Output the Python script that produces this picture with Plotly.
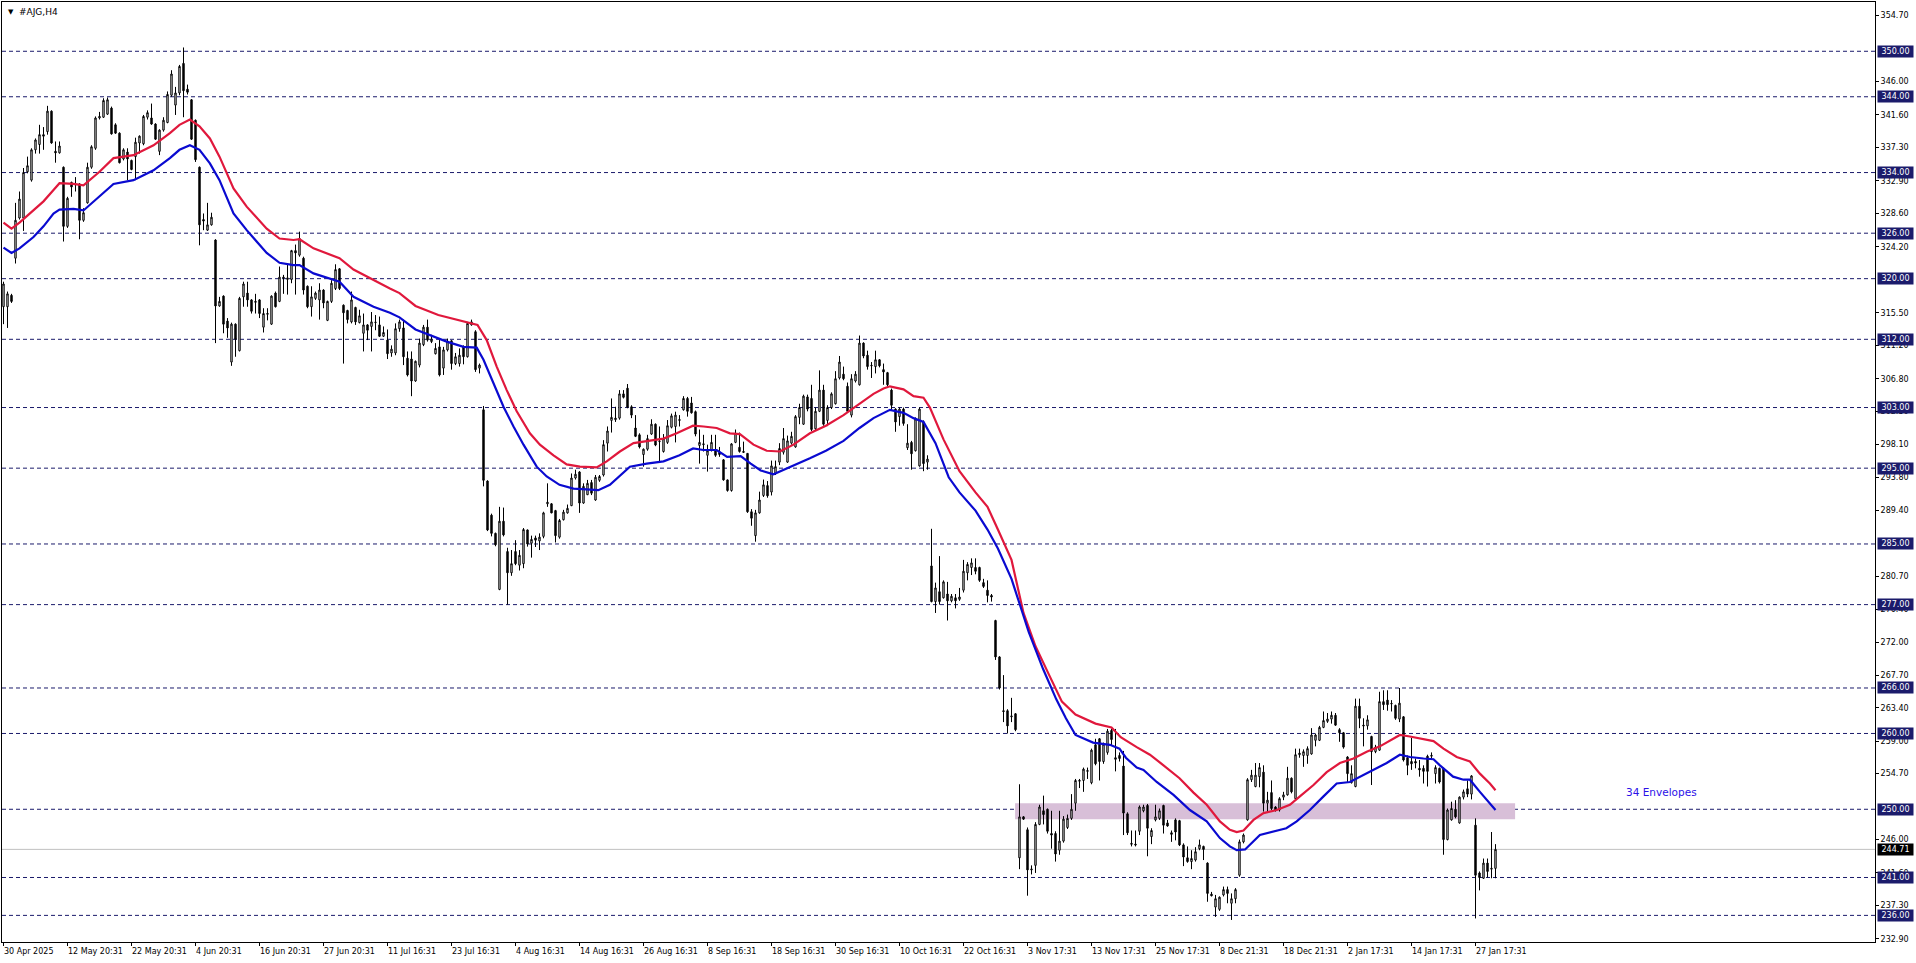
import plotly.graph_objects as go

# ---------------- DATA ----------------
opens = [
    316.3, 316.3, 317.8, 322.7, 328.0, 328.0, 334.1, 333.0, 337.0, 337.7,
    339.0, 339.4, 342.1, 336.8, 336.6, 334.7, 326.9, 332.7, 332.5, 332.5,
    327.7, 330.0, 334.7, 337.2, 341.2, 341.3, 341.7, 342.5, 340.3, 339.2,
    335.8, 336.7, 335.6, 336.1, 337.9, 337.8, 341.3, 341.2, 340.4, 336.8,
    339.6, 340.6, 344.2, 342.9, 344.5, 348.4, 345.0, 343.6, 340.9, 334.7,
    327.8, 326.4, 327.1, 325.1, 316.4, 317.7, 314.4, 309.0, 314.0, 310.5,
    317.6, 318.1, 317.2, 317.0, 317.2, 313.6, 315.3, 314.0, 318.1, 317.0,
    320.2, 319.9, 319.9, 323.7, 323.1, 322.7, 319.0, 316.3, 317.4, 317.2,
    318.5, 314.5, 317.0, 318.7, 321.3, 316.5, 315.8, 314.3, 316.2, 314.2,
    312.8, 313.9, 313.7, 314.2, 313.9, 312.4, 311.9, 310.2, 310.2, 313.4,
    313.5, 309.5, 309.4, 306.5, 308.6, 311.3, 313.6, 311.7, 310.1, 311.0,
    308.2, 310.6, 311.8, 308.8, 308.8, 311.0, 309.7, 313.9, 313.0, 308.2,
    302.7, 293.3, 288.8, 286.4, 279.0, 288.0, 284.0, 281.2, 284.0, 282.2,
    282.4, 286.85, 285.1, 285.8, 285.4, 286.0, 290.3, 290.3, 289.4, 285.9,
    288.2, 289.1, 290.05, 293.7, 294.5, 290.4, 291.5, 293.1, 290.8, 293.4,
    294.1, 298.3, 301.3, 301.4, 301.6, 304.8, 305.55, 303.1, 300.3, 299.4,
    296.8, 297.5, 299.5, 300.8, 298.5, 297.2, 298.4, 300.4, 300.5, 301.3,
    302.7, 304.2, 303.6, 302.45, 298.0, 298.1, 296.7, 297.4, 297.4, 297.1,
    296.1, 293.45, 292.05, 298.4, 297.75, 297.2, 296.95, 289.25, 286.1, 289.1,
    291.4, 292.7, 291.85, 294.3, 295.8, 297.1, 295.8, 298.3, 297.8, 301.7,
    300.8, 304.4, 304.2, 300.2, 302.5, 305.3, 301.3, 303.0, 303.5, 306.9,
    307.4, 305.8, 302.0, 306.5, 306.0, 311.5, 309.9, 308.5, 308.4, 309.3,
    308.0, 307.6, 305.3, 302.8, 301.8, 302.8, 297.7, 298.4, 297.3, 295.3,
    301.1, 295.8, 282.1, 277.4, 278.7, 277.9, 278.4, 277.5, 277.9, 277.7,
    278.9, 281.2, 281.9, 281.9, 281.9, 279.9, 278.9, 278.2, 274.9, 270.1,
    263.0, 263.0, 262.2, 262.6, 243.6, 249.0, 247.3, 242.0, 242.6, 248.0,
    249.8, 250.0, 246.8, 246.8, 244.6, 245.8, 247.6, 248.8, 250.8, 253.7,
    253.8, 255.0, 253.5, 258.5, 259.3, 256.3, 257.5, 260.4, 256.8, 257.1,
    255.7, 249.4, 245.5, 245.4, 247.1, 249.8, 250.5, 246.4, 248.6, 248.8,
    250.5, 248.2, 246.9, 248.6, 248.5, 245.3, 243.6, 243.1, 243.3, 244.8,
    245.1, 242.9, 238.8, 237.1, 236.8, 238.7, 239.4, 237.6, 238.2, 241.3,
    245.7, 248.6, 253.9, 253.0, 254.3, 254.9, 250.8, 252.2, 250.3, 249.9,
    251.6, 251.9, 254.1, 251.4, 257.2, 257.1, 257.1, 257.3, 259.1, 259.1,
    260.8, 261.6, 261.9, 262.4, 260.5, 260.1, 256.9, 253.5, 253.0, 263.6,
    261.1, 261.0, 259.6, 257.6, 257.8, 264.2, 264.4, 263.9, 263.7, 261.9,
    262.2, 256.8, 256.3, 256.3, 255.4, 255.4, 257.0, 257.0, 254.7, 255.4,
    255.4, 246.0, 248.6, 250.0, 248.2, 251.6, 252.7, 252.0, 247.9, 241.6,
    240.9, 242.9, 242.1, 242.2,
]
highs = [
    319.6, 318.3, 318.0, 330.0, 331.5, 334.6, 336.1, 337.2, 338.5, 340.3,
    340.0, 342.8, 342.2, 338.1, 338.1, 334.8, 330.8, 332.8, 333.4, 332.6,
    329.3, 335.3, 337.6, 341.4, 342.0, 343.8, 343.9, 342.7, 340.5, 339.3,
    337.2, 337.2, 335.7, 338.6, 338.9, 341.6, 342.2, 343.1, 340.5, 339.7,
    341.3, 344.7, 347.5, 345.3, 348.2, 350.5, 345.6, 343.7, 341.0, 334.8,
    328.6, 330.0, 328.7, 325.2, 317.6, 317.8, 314.8, 314.2, 314.1, 317.6,
    319.6, 319.6, 317.3, 318.0, 317.3, 316.1, 316.1, 317.8, 318.3, 321.6,
    320.5, 321.8, 323.8, 324.5, 326.2, 322.9, 319.1, 319.0, 318.3, 319.4,
    318.6, 317.1, 319.8, 321.9, 321.4, 316.6, 315.9, 318.3, 316.3, 315.9,
    315.4, 314.0, 315.6, 315.2, 315.0, 313.7, 313.3, 311.2, 314.1, 314.6,
    314.6, 310.4, 310.4, 309.2, 312.1, 313.9, 314.6, 312.6, 311.5, 311.9,
    311.0, 312.1, 311.9, 310.2, 310.8, 311.2, 314.3, 314.6, 313.2, 308.8,
    303.2, 293.4, 289.0, 286.5, 289.9, 289.8, 284.5, 284.2, 285.5, 284.2,
    287.1, 286.9, 286.1, 286.1, 286.4, 289.25, 293.0, 290.4, 289.5, 288.3,
    289.5, 290.2, 294.3, 294.8, 294.6, 293.0, 293.45, 293.45, 294.1, 294.1,
    298.7, 300.5, 304.2, 303.1, 305.3, 305.3, 306.1, 303.3, 302.0, 299.6,
    297.6, 299.4, 301.45, 300.9, 300.5, 299.5, 301.35, 302.2, 302.45, 302.0,
    304.5, 304.4, 304.4, 302.6, 300.1, 299.4, 298.1, 299.4, 299.4, 297.8,
    296.2, 293.5, 298.3, 300.1, 299.7, 298.5, 297.0, 289.6, 289.5, 291.9,
    293.5, 293.3, 296.0, 296.0, 298.3, 300.3, 299.3, 299.8, 302.0, 303.5,
    304.7, 304.7, 306.0, 303.0, 307.9, 306.0, 303.3, 305.0, 307.8, 309.8,
    308.4, 306.3, 307.4, 307.8, 312.5, 311.6, 310.5, 309.0, 310.5, 309.4,
    308.8, 307.7, 305.5, 302.9, 303.0, 303.0, 300.8, 298.6, 301.7, 303.0,
    301.3, 296.7, 287.0, 279.9, 283.4, 280.2, 280.0, 278.4, 278.4, 279.2,
    282.9, 282.6, 283.1, 283.1, 282.0, 280.4, 280.2, 278.4, 275.0, 270.2,
    267.7, 263.2, 264.7, 262.7, 253.3, 249.1, 247.6, 242.6, 248.3, 250.6,
    251.8, 250.1, 249.8, 247.1, 249.8, 249.1, 249.3, 252.0, 254.0, 254.0,
    255.5, 255.5, 258.0, 259.3, 259.4, 258.8, 260.6, 260.6, 260.6, 257.5,
    257.7, 249.6, 247.2, 247.2, 250.5, 250.6, 250.7, 247.5, 250.6, 250.1,
    250.6, 248.6, 247.2, 248.8, 248.6, 245.5, 245.1, 244.6, 245.0, 246.0,
    245.2, 243.0, 239.1, 238.7, 238.5, 239.8, 239.8, 238.9, 239.6, 246.0,
    246.8, 254.1, 255.2, 256.1, 256.1, 255.8, 252.3, 253.8, 250.4, 251.6,
    252.3, 255.6, 254.2, 258.0, 258.0, 257.9, 258.3, 260.7, 260.0, 261.0,
    262.9, 262.7, 262.9, 262.7, 260.7, 260.2, 257.0, 255.8, 264.6, 264.6,
    262.0, 262.4, 259.7, 258.5, 265.5, 265.7, 265.7, 264.4, 263.8, 266.0,
    262.3, 257.1, 259.4, 256.7, 256.5, 255.8, 257.2, 257.5, 255.8, 255.5,
    255.5, 250.1, 251.0, 251.2, 251.7, 252.6, 253.8, 254.5, 248.8, 241.8,
    243.5, 243.5, 247.0, 245.4,
]
lows = [
    314.0, 313.5, 316.8, 322.0, 327.8, 326.3, 333.9, 332.8, 336.5, 336.5,
    337.0, 339.0, 337.8, 335.3, 336.5, 324.9, 326.7, 330.8, 331.5, 325.2,
    327.5, 329.9, 334.5, 337.0, 341.0, 341.2, 341.6, 339.0, 339.1, 335.2,
    335.6, 333.0, 334.3, 333.0, 336.5, 337.6, 341.0, 340.3, 338.3, 336.3,
    339.4, 340.5, 344.0, 341.6, 344.2, 341.3, 344.3, 338.3, 335.4, 324.4,
    326.4, 326.3, 327.0, 311.5, 316.3, 312.8, 312.2, 308.5, 309.7, 310.4,
    316.3, 316.3, 315.4, 315.4, 314.8, 312.9, 314.5, 313.9, 316.2, 316.9,
    318.0, 317.9, 319.4, 317.9, 322.9, 317.9, 316.1, 315.0, 317.2, 314.6,
    316.1, 314.4, 316.8, 318.5, 318.5, 308.8, 314.1, 314.1, 313.9, 314.1,
    310.4, 311.9, 310.4, 313.2, 312.3, 312.3, 309.4, 309.7, 309.9, 313.0,
    308.6, 307.1, 304.5, 306.4, 308.3, 311.1, 311.7, 311.5, 310.0, 307.1,
    307.3, 310.4, 308.0, 308.6, 308.4, 308.7, 309.6, 313.8, 307.7, 307.5,
    292.6, 286.7, 286.0, 284.7, 278.9, 286.0, 277.0, 280.8, 282.2, 281.5,
    281.8, 284.65, 283.2, 284.6, 284.2, 285.75, 289.9, 289.05, 285.2, 285.7,
    288.1, 289.0, 290.0, 293.5, 289.1, 290.3, 291.45, 291.45, 290.7, 293.2,
    293.9, 297.2, 299.7, 301.1, 301.4, 304.2, 302.9, 301.6, 299.1, 297.6,
    295.2, 297.3, 299.4, 297.9, 295.9, 297.05, 298.2, 300.25, 298.4, 300.5,
    302.6, 301.8, 302.2, 299.2, 295.6, 297.2, 294.55, 297.2, 296.5, 296.5,
    293.35, 291.9, 291.9, 298.3, 297.05, 297.0, 289.1, 287.4, 285.3, 289.0,
    291.2, 291.1, 291.4, 294.1, 295.4, 296.8, 295.7, 298.1, 297.7, 300.8,
    300.7, 302.5, 299.9, 300.05, 302.4, 300.6, 300.55, 302.8, 303.4, 306.7,
    306.6, 302.4, 301.7, 306.3, 305.9, 309.5, 308.0, 306.9, 307.5, 308.3,
    306.0, 305.8, 302.7, 299.8, 300.6, 300.6, 297.4, 294.8, 297.2, 295.2,
    294.6, 294.8, 277.3, 275.9, 277.0, 277.8, 274.9, 277.3, 276.5, 277.5,
    278.6, 280.2, 280.9, 281.0, 280.0, 279.2, 277.3, 277.4, 269.7, 265.8,
    261.5, 260.0, 261.5, 260.3, 242.1, 248.6, 238.6, 241.4, 241.6, 247.9,
    248.0, 246.8, 244.8, 243.1, 244.0, 245.6, 247.4, 248.6, 249.8, 252.8,
    252.3, 254.0, 253.3, 255.8, 253.8, 256.0, 257.2, 258.4, 255.0, 256.3,
    246.6, 246.6, 245.1, 245.1, 246.6, 249.6, 243.8, 245.4, 248.4, 248.6,
    246.8, 247.7, 245.7, 245.9, 245.15, 242.5, 242.95, 242.1, 243.1, 244.6,
    243.3, 237.8, 238.5, 235.8, 236.6, 238.5, 237.6, 235.4, 237.6, 241.1,
    245.5, 248.5, 253.6, 252.9, 252.9, 249.7, 249.6, 249.9, 249.7, 249.7,
    251.2, 251.8, 252.1, 251.3, 256.8, 255.6, 256.0, 257.2, 258.3, 259.0,
    260.7, 261.4, 261.3, 261.0, 258.9, 258.0, 253.5, 253.4, 252.9, 260.7,
    258.3, 260.5, 253.2, 257.4, 257.7, 263.1, 263.0, 262.9, 261.8, 261.5,
    256.3, 254.5, 255.2, 255.4, 254.3, 253.4, 253.0, 256.5, 253.4, 253.4,
    244.0, 245.9, 248.5, 248.8, 248.1, 251.3, 251.6, 251.3, 235.6, 239.3,
    240.8, 241.0, 240.9, 240.9,
]
closes = [
    319.3, 318.0, 317.0, 327.7, 330.5, 334.0, 334.9, 337.0, 338.3, 339.0,
    338.8, 342.1, 337.9, 336.6, 337.5, 326.9, 330.6, 332.1, 332.4, 327.7,
    328.7, 334.7, 337.4, 341.2, 341.4, 343.5, 343.6, 339.1, 339.2, 335.3,
    337.0, 335.8, 334.4, 338.0, 338.8, 341.4, 341.9, 340.4, 338.4, 339.6,
    340.9, 344.3, 347.0, 344.5, 348.0, 344.8, 344.6, 338.4, 335.7, 327.1,
    327.6, 327.1, 328.1, 316.4, 317.0, 314.0, 313.5, 314.0, 312.0, 317.4,
    319.3, 317.2, 315.7, 316.9, 315.4, 315.4, 315.4, 317.7, 316.3, 320.2,
    320.1, 320.1, 323.7, 323.4, 325.3, 318.5, 316.3, 317.6, 318.1, 318.5,
    316.8, 317.0, 319.4, 321.2, 318.7, 315.5, 314.6, 317.2, 314.3, 315.1,
    313.9, 313.2, 314.3, 314.25, 312.4, 312.9, 310.1, 310.7, 313.4, 314.3,
    309.7, 307.3, 306.5, 309.1, 311.5, 313.6, 311.9, 312.0, 310.8, 307.3,
    310.6, 311.7, 308.8, 309.7, 309.9, 309.7, 314.1, 314.3, 308.0, 308.6,
    293.4, 286.85, 286.4, 284.9, 288.0, 286.2, 281.2, 282.4, 282.4, 283.5,
    286.9, 285.0, 285.6, 285.5, 285.9, 289.1, 290.5, 289.1, 286.1, 288.1,
    289.2, 289.7, 293.7, 294.2, 290.4, 292.6, 293.0, 291.7, 293.8, 293.9,
    298.1, 299.9, 301.7, 301.6, 304.8, 304.35, 303.05, 302.0, 299.2, 297.8,
    297.5, 298.9, 300.8, 298.05, 298.55, 298.9, 300.6, 301.9, 302.0, 301.4,
    304.2, 302.5, 302.3, 299.5, 298.4, 298.2, 297.3, 298.4, 296.7, 296.8,
    293.45, 292.05, 298.2, 299.6, 297.2, 297.1, 289.25, 288.4, 289.1, 290.8,
    292.8, 291.35, 295.3, 295.2, 297.6, 298.9, 298.6, 299.2, 301.8, 303.0,
    304.5, 302.8, 300.1, 302.5, 305.3, 300.8, 303.0, 304.8, 306.8, 309.0,
    306.8, 302.5, 306.8, 307.4, 311.5, 309.8, 308.4, 308.55, 309.3, 308.5,
    307.7, 306.0, 303.3, 301.1, 302.8, 300.9, 298.3, 296.9, 301.5, 302.8,
    295.6, 296.2, 277.4, 279.2, 277.4, 280.0, 277.5, 278.1, 277.5, 278.0,
    281.4, 282.3, 282.5, 281.4, 280.2, 279.4, 278.2, 278.0, 270.1, 266.0,
    262.9, 261.0, 262.3, 260.5, 249.0, 248.7, 242.0, 242.1, 248.0, 250.3,
    249.3, 247.1, 246.6, 244.1, 245.8, 248.7, 248.8, 250.0, 253.8, 253.8,
    255.3, 255.1, 257.8, 256.0, 256.3, 258.6, 260.3, 259.2, 256.6, 256.7,
    249.5, 246.9, 245.4, 245.3, 250.3, 250.3, 247.5, 247.2, 249.0, 249.8,
    247.9, 247.8, 246.7, 247.0, 245.3, 243.7, 243.1, 243.5, 244.4, 245.3,
    244.7, 238.9, 238.6, 238.2, 238.4, 239.4, 238.9, 238.2, 239.4, 245.7,
    246.6, 253.9, 254.5, 254.5, 255.5, 250.8, 251.2, 250.1, 249.9, 251.4,
    251.9, 254.1, 252.3, 257.2, 257.4, 257.6, 258.0, 259.8, 259.8, 260.8,
    261.7, 261.9, 262.4, 261.1, 260.1, 258.2, 254.7, 254.7, 263.6, 262.0,
    261.0, 261.8, 257.6, 258.2, 264.2, 263.8, 263.8, 263.95, 262.0, 264.0,
    256.5, 255.8, 256.0, 256.1, 255.2, 255.0, 255.0, 257.1, 255.5, 253.6,
    246.0, 249.9, 250.1, 249.0, 251.6, 252.3, 252.0, 254.4, 241.3, 241.0,
    242.9, 241.8, 242.2, 244.71,
]

# Envelope (34) upper / lower bands, read at bar positions
upper_x = [0, 2, 4, 7.5, 10, 12.5, 14, 17.5, 20, 24, 27.5, 32.5, 37.5, 41.6, 44, 46.6, 49, 51.6, 54, 57.5,
           60.8, 65.8, 69, 72.5, 74, 77.5, 82.5, 84, 87.5, 92.5, 96.6, 99, 103, 108.7, 113.5, 118.5, 120.8,
           123.3, 125.8, 128.3, 131.6, 134.1, 137.5, 140.8, 144.1, 148.3, 150.8, 154.1, 157.5, 160.8, 165,
           168.3, 172.4, 175, 178.3, 181.6, 184.1, 187.5, 190.8, 194.1, 197.5, 201.6, 205.6, 210, 214, 217.5,
           220, 221.6, 225, 227.5, 230, 231.6, 235, 239, 243, 246, 248.6, 252, 255, 258, 261.6, 264.6, 268,
           273, 277, 279.3, 283.3, 286.6, 290, 294, 297.5, 300.8, 304.1, 306.6, 308.3, 310, 312.5, 315,
           318.3, 321.6, 324.1, 327.5, 330.8, 334.1, 337.5, 340.8, 344.1, 346.6, 349.1, 351.6, 355, 357.5,
           360, 363.3, 366.6, 369.1, 371.6, 373]
upper_y = [327.4, 326.6, 327.4, 329.1, 330.2, 331.7, 332.6, 332.5, 332.3, 334.1, 335.9, 336.3, 337.6, 339.2,
           340.3, 341.0, 340.1, 338.5, 336.1, 331.9, 329.5, 326.6, 325.3, 325.1, 325.2, 324.0, 323.0, 322.7,
           321.2, 319.8, 318.7, 318.1, 316.4, 315.2, 314.55, 313.9, 311.9, 308.4, 305.3, 302.5, 299.6, 298.1,
           296.7, 295.5, 295.2, 295.1, 295.9, 297.2, 298.3, 298.6, 298.9, 299.6, 300.6, 300.5, 300.3, 299.6,
           299.5, 298.1, 297.3, 297.2, 298.1, 299.6, 300.6, 302.0, 303.5, 304.8, 305.5, 305.8, 305.4, 304.5,
           304.3, 303.0, 298.8, 294.6, 291.8, 289.9, 286.9, 282.9, 275.9, 271.5, 267.5, 264.2, 262.5, 261.3,
           260.8, 259.5, 258.2, 257.2, 255.8, 254.1, 252.2, 250.6, 248.4, 247.3, 247.0, 247.2, 248.6, 249.5,
           249.9, 250.6, 251.7, 253.2, 254.9, 256.1, 256.7, 257.6, 258.3, 259.1, 259.8, 259.6, 259.2, 259.0,
           258.0, 256.9, 256.3, 254.7, 253.4, 252.5]
lower_x = [0, 2, 4, 7.5, 10, 12.5, 14, 17.5, 20, 24, 27.5, 32.5, 37.5, 41.6, 44, 46.6, 49, 51.6, 54, 57.5,
           60.8, 65.8, 69, 72.5, 74, 77.5, 82.5, 84, 87.5, 92.5, 96.6, 99, 103, 106.6, 110.8, 115, 118.3, 120,
           122.5, 125, 127.5, 130, 133.3, 135.8, 139, 142.5, 145.8, 148.7, 151.6, 154, 156.6, 160.8, 165, 169,
           172.4, 175, 178.3, 180.9, 184.3, 186.8, 189.3, 192.5, 197.5, 201.6, 205.6, 210, 214, 217.5, 221.6,
           225, 227.5, 230, 233, 236.3, 239, 243, 246, 248.6, 252, 254.5, 256.3, 259.9, 263.2, 265.6, 268,
           272.4, 276.6, 279, 280.6, 283.3, 285, 288.3, 292.5, 296.6, 300.8, 304.1, 306.6, 308.3, 310.4,
           314.1, 317.4, 320.7, 323.3, 326.6, 330, 333.3, 336.6, 339.9, 342.4, 345.8, 349.1, 351.6, 355,
           357.5, 359.1, 362.4, 365, 366.6, 369.1, 371.6, 373]
lower_y = [324.1, 323.4, 324.0, 325.5, 326.9, 328.6, 329.1, 329.2, 329.0, 330.8, 332.5, 333.0, 334.3, 335.9,
           337.0, 337.6, 337.0, 335.2, 333.0, 328.6, 326.4, 323.4, 322.1, 321.8, 321.8, 320.7, 319.9, 319.6,
           317.6, 316.3, 315.5, 314.9, 313.3, 312.6, 311.7, 311.0, 310.9, 309.3, 306.2, 303.1, 300.5, 298.1,
           295.2, 293.9, 292.8, 292.3, 292.2, 292.1, 292.8, 293.9, 295.2, 295.6, 295.9, 296.7, 297.6, 297.4,
           297.4, 296.5, 296.6, 295.6, 294.7, 294.2, 295.3, 296.3, 297.3, 298.6, 300.3, 301.6, 302.7, 302.3,
           301.6, 301.1, 298.3, 293.8, 291.8, 289.4, 286.9, 284.4, 280.4, 276.4, 273.4, 268.5, 264.5, 262.0,
           259.8, 258.8, 258.5, 258.0, 256.8, 255.5, 255.2, 253.6, 251.9, 249.9, 248.4, 246.2, 245.1, 244.6,
           244.7, 246.6, 247.1, 247.5, 248.4, 249.9, 251.7, 253.4, 253.6, 254.5, 255.2, 256.1, 257.2, 256.9,
           256.7, 256.6, 255.8, 254.3, 253.9, 253.9, 252.3, 250.8, 249.9]

# horizontal levels drawn by the user
levels = [350, 344, 334, 326, 320, 312, 303, 295, 285, 277, 266, 260, 250, 241, 236]
current_price = 244.71
# price-axis scale labels that are visible
scale_ticks = [232.9, 237.3, 241.6, 246.0, 254.7, 259.0, 263.4, 267.7, 272.0, 276.4, 280.7,
               289.4, 293.8, 298.1, 302.5, 306.8, 311.2, 315.5, 324.2, 328.6, 332.9,
               337.3, 341.6, 346.0, 354.7]
# time-axis labels (every 16 bars)
time_labels = ["30 Apr 2025", "12 May 20:31", "22 May 20:31", "4 Jun 20:31", "16 Jun 20:31",
               "27 Jun 20:31", "11 Jul 16:31", "23 Jul 16:31", "4 Aug 16:31", "14 Aug 16:31",
               "26 Aug 16:31", "8 Sep 16:31", "18 Sep 16:31", "30 Sep 16:31", "10 Oct 16:31",
               "22 Oct 16:31", "3 Nov 17:31", "13 Nov 17:31", "25 Nov 17:31", "8 Dec 21:31",
               "18 Dec 21:31", "2 Jan 17:31", "14 Jan 17:31", "27 Jan 17:31"]
label_step = 16
# shaded zone
zone_start, zone_end = 252.9, 377.9
zone_low, zone_high = 248.7, 250.8

# ---------------- FIGURE ----------------
FONT = "Tahoma, DejaVu Sans, sans-serif"
NAVY = "#1b1b6b"
bars = list(range(len(opens)))

fig = go.Figure()
fig.add_trace(go.Candlestick(
    x=bars, open=opens, high=highs, low=lows, close=closes,
    increasing=dict(line=dict(color="black", width=1), fillcolor="white"),
    decreasing=dict(line=dict(color="black", width=1), fillcolor="black"),
    whiskerwidth=0, showlegend=False, hoverinfo="skip"))
fig.add_trace(go.Scatter(x=upper_x, y=upper_y, mode="lines",
                         line=dict(color="#e0183c", width=2.2), showlegend=False, hoverinfo="skip"))
fig.add_trace(go.Scatter(x=lower_x, y=lower_y, mode="lines",
                         line=dict(color="#0a0ad0", width=2.2), showlegend=False, hoverinfo="skip"))

shapes = [dict(type="rect", xref="x", yref="y", x0=zone_start, x1=zone_end, y0=zone_low, y1=zone_high,
               fillcolor="#d8bfd8", line=dict(width=0), layer="below")]
for lv in levels:
    shapes.append(dict(type="line", xref="paper", yref="y", x0=0, x1=1, y0=lv, y1=lv,
                       line=dict(color=NAVY, width=1, dash="4px,3px"), layer="below"))
shapes.append(dict(type="line", xref="paper", yref="y", x0=0, x1=1, y0=current_price, y1=current_price,
                   line=dict(color="#c0c0c0", width=1), layer="below"))

annotations = []
for lv in levels:
    annotations.append(dict(xref="paper", yref="y", x=1, y=lv, xanchor="left", yanchor="middle",
                            xshift=2, text=f"{lv:.2f}", showarrow=False, bgcolor=NAVY,
                            font=dict(family=FONT, size=8, color="white"), width=35, height=11,
                            borderpad=0, align="center"))
annotations.append(dict(xref="paper", yref="y", x=1, y=current_price, xanchor="left", yanchor="middle",
                        xshift=2, text=f"{current_price:.2f}", showarrow=False, bgcolor="black",
                        font=dict(family=FONT, size=8, color="white"), width=35, height=11,
                        borderpad=0, align="center"))
for k, lab in enumerate(time_labels):
    annotations.append(dict(xref="x", yref="paper", x=k * label_step, y=0, xanchor="left", yanchor="top",
                            xshift=-2, yshift=-3, text=lab, showarrow=False,
                            font=dict(family=FONT, size=8, color="black")))
annotations.append(dict(xref="paper", yref="paper", x=0, y=1, xanchor="left", yanchor="top",
                        xshift=4, yshift=-4, text="▼", showarrow=False,
                        font=dict(family=FONT, size=7, color="black")))
annotations.append(dict(xref="paper", yref="paper", x=0, y=1, xanchor="left", yanchor="top",
                        xshift=15, yshift=-3, text="#AJG,H4", showarrow=False,
                        font=dict(family=FONT, size=9, color="black")))
annotations.append(dict(xref="x", yref="y", x=405, y=252.3, xanchor="left", yanchor="middle",
                        text="34 Envelopes", showarrow=False,
                        font=dict(family=FONT, size=10.5, color="#2b10e8")))

fig.update_layout(
    width=1916, height=963,
    margin=dict(l=2, r=41, t=2, b=21),
    paper_bgcolor="white", plot_bgcolor="white",
    showlegend=False, boxgap=0.5,
    shapes=shapes, annotations=annotations,
    xaxis=dict(range=[-0.375, 467.875], showgrid=False, zeroline=False,
               rangeslider=dict(visible=False),
               tickvals=[k * label_step for k in range(len(time_labels))],
               showticklabels=False, ticks="outside", ticklen=3, tickcolor="black",
               showline=True, mirror=True, linecolor="black", linewidth=1),
    yaxis=dict(range=[232.49, 356.5], side="right", showgrid=False, zeroline=False,
               tickvals=scale_ticks, ticktext=[f"{t:.2f}" for t in scale_ticks],
               ticks="outside", ticklen=3, tickcolor="black",
               tickfont=dict(family=FONT, size=8, color="black"),
               showline=True, mirror=True, linecolor="black", linewidth=1),
)

fig.write_html(
    "out.html",
    config={"displayModeBar": False},
    post_script="document.body.style.margin='0';document.body.style.padding='0';"
                "document.documentElement.style.overflow='hidden';document.body.style.overflow='hidden';",
)
